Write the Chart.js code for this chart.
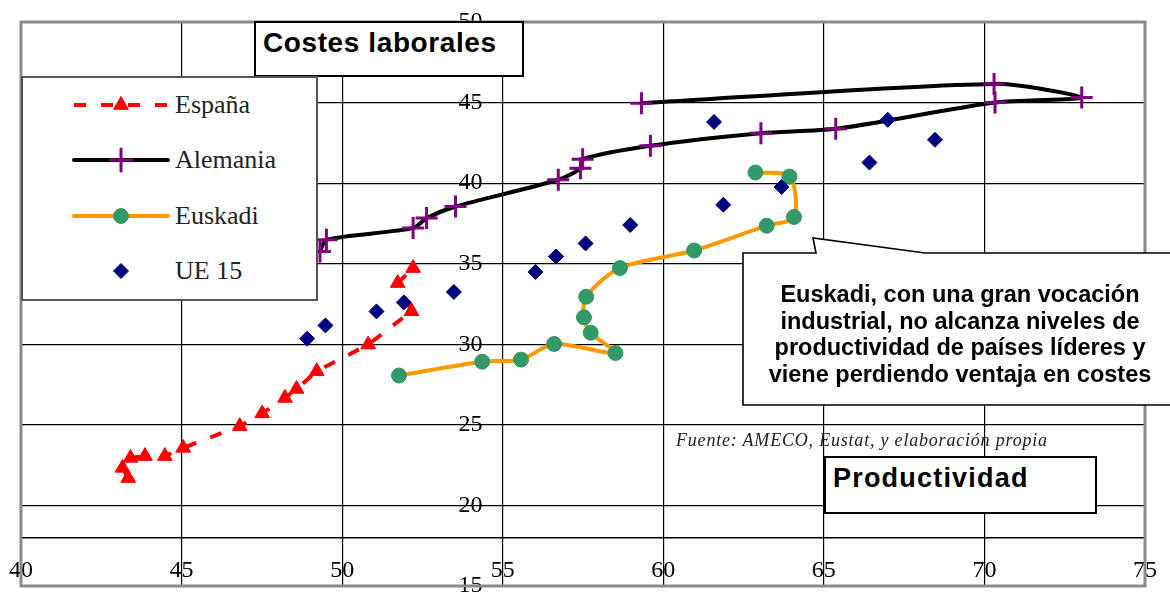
<!DOCTYPE html>
<html>
<head>
<meta charset="utf-8">
<script src="https://cdn.jsdelivr.net/npm/chart.js@4/dist/chart.umd.min.js"></script>
<style>
  html, body { margin:0; padding:0; background:#fff; overflow:hidden; }
  #wrap { position:relative; width:1170px; height:592px; overflow:hidden; background:#fff; }
  #c { position:absolute; left:0; top:0; }
  .box { position:absolute; background:#fff; box-sizing:border-box; }
  #title { left:254px; top:21px; width:270px; height:56px; border:2px solid #000;
           font:bold 28px "Liberation Sans", Arial, sans-serif; letter-spacing:0.6px; color:#000;
           padding-left:7px; line-height:40px; white-space:nowrap; }
  #xtitle { left:824px; top:456px; width:273px; height:58px; border:2px solid #000;
           font:bold 27px "Liberation Sans", Arial, sans-serif; letter-spacing:1.2px; color:#000;
           padding-left:7px; line-height:40px; }
  #legend { left:21px; top:76px; width:297px; height:225px; border:2px solid #555; }
  .lgtext { position:absolute; left:152px; font:26px "Liberation Serif", "Times New Roman", serif; color:#222; line-height:30px; height:30px; white-space:nowrap; }
  .lgsample { position:absolute; left:48px; }
  #note { position:absolute; left:743px; top:281px; width:434px; text-align:center;
          font:bold 23.5px "Liberation Sans", Arial, sans-serif; line-height:26.7px; color:#000; }
  #source { position:absolute; left:676px; top:428px; white-space:nowrap;
          font:italic 18px "Liberation Serif", "Times New Roman", serif; letter-spacing:0.8px; color:#222; line-height:24px; }
  svg { position:absolute; left:0; top:0; }
</style>
</head>
<body>
<div id="wrap">
  <canvas id="c" width="1170" height="602"></canvas>
  <div id="title" class="box">Costes laborales</div>
  <div id="legend" class="box"></div>
  <svg width="1170" height="592">
    <path d="M743,253 L816,253 L813,238 L925,253 L1185,253 L1185,405 L743,405 Z" fill="#fff" stroke="#000" stroke-width="1.6"/>
  </svg>
  <div id="note">Euskadi, con una gran vocación<br>industrial, no alcanza niveles de<br>productividad de países líderes y<br>viene perdiendo ventaja en costes</div>
  <div id="source">Fuente: AMECO, Eustat, y elaboración propia</div>
  <div id="xtitle" class="box">Productividad</div>
</div>
<script>
// ---- Data ----
const seriesNames = ['España', 'Alemania', 'Euskadi', 'UE 15'];

const espanaX = [43.34, 43.16, 43.41, 43.86, 44.48, 45.05, 46.81, 47.51, 48.22, 48.58, 49.21, 50.81, 52.16, 51.73, 52.21];
const espanaY = [21.70, 22.33, 22.95, 23.06, 23.06, 23.57, 24.92, 25.71, 26.67, 27.23, 28.33, 29.98, 32.05, 33.80, 34.73];

const alemaniaX = [49.31, 49.51, 52.21, 52.63, 53.53, 56.73, 57.42, 57.49, 59.60, 63.04, 65.37, 70.33, 73.03, 70.30, 59.32];
const alemaniaY = [35.76, 36.49, 37.21, 37.83, 38.55, 40.21, 40.93, 41.49, 42.32, 43.10, 43.37, 45.00, 45.31, 46.16, 44.96];

const euskadiX = [51.77, 54.36, 55.57, 56.60, 58.51, 57.74, 57.53, 57.60, 58.65, 60.96, 63.22, 64.07, 63.93, 62.87];
const euskadiY = [28.06, 28.92, 29.05, 30.02, 29.46, 30.72, 31.67, 32.95, 34.73, 35.82, 37.36, 37.90, 40.41, 40.66];

const ue15X = [48.91, 49.48, 51.07, 51.92, 53.48, 56.02, 56.66, 57.58, 58.97, 61.87, 63.68, 61.58, 66.42, 66.99, 68.46];
const ue15Y = [30.35, 31.17, 32.04, 32.60, 33.25, 34.49, 35.45, 36.26, 37.40, 38.66, 39.76, 43.80, 41.28, 43.93, 42.69];

const xTickValues = [40, 45, 50, 55, 60, 65, 70, 75];
const yTickValues = [15, 20, 25, 30, 35, 40, 45, 50];

const toPoints = (xs, ys) => xs.map((x, i) => ({x: x, y: ys[i]}));

const datasets = [
  { label: seriesNames[0], data: toPoints(espanaX, espanaY), showLine: true,
    borderColor: '#ff0000', borderWidth: 4, borderDash: [12, 15], tension: 0,
    pointStyle: 'triangle', pointRadius: 8.5, pointBackgroundColor: '#ff0000',
    pointBorderColor: '#ff0000', pointBorderWidth: 1, order: 3 },
  { label: seriesNames[1], data: toPoints(alemaniaX, alemaniaY), showLine: true,
    borderColor: '#000000', borderWidth: 4, borderCapStyle: 'round', tension: 0.25,
    pointStyle: 'cross', pointRadius: 11, pointBackgroundColor: '#800080',
    pointBorderColor: '#800080', pointBorderWidth: 3, order: 2 },
  { label: seriesNames[2], data: toPoints(euskadiX, euskadiY), showLine: true,
    borderColor: '#ff9900', borderWidth: 4, borderCapStyle: 'round', tension: 0.3,
    pointStyle: 'circle', pointRadius: 7.5, pointBackgroundColor: '#339966',
    pointBorderColor: '#339966', pointBorderWidth: 1, order: 1 },
  { label: seriesNames[3], data: toPoints(ue15X, ue15Y), showLine: false,
    pointStyle: 'rectRot', pointRadius: 7.5, pointBackgroundColor: '#000080',
    pointBorderColor: '#000080', pointBorderWidth: 1, order: 0 }
];

const framePlugin = {
  id: 'frame',
  afterDraw(chart) {
    const a = chart.chartArea, ctx = chart.ctx;
    ctx.save();
    ctx.strokeStyle = '#8a8a8a';
    ctx.lineWidth = 3;
    ctx.strokeRect(a.left, a.top, a.right - a.left, a.bottom - a.top);
    ctx.restore();
  }
};

const tickFont = { family: 'Liberation Serif', size: 24 };

const chart = new Chart(document.getElementById('c'), {
  type: 'scatter',
  data: { datasets: datasets },
  options: {
    responsive: false,
    devicePixelRatio: 1,
    animation: false,
    layout: { padding: { left: 21, right: 25, top: 22, bottom: 16 } },
    plugins: { legend: { display: false }, tooltip: { enabled: false } },
    scales: {
      x: {
        type: 'linear', min: 40, max: 75,
        position: { y: 18 },
        afterBuildTicks: s => { s.ticks = xTickValues.map(v => ({ value: v })); },
        ticks: { autoSkip: false, maxRotation: 0, padding: 0, font: tickFont, color: '#000' },
        grid: { color: '#000', lineWidth: 1.2, drawTicks: true, tickLength: 19, tickColor: 'rgba(0,0,0,0)' },
        border: { display: true, color: '#000', width: 1.5 }
      },
      y: {
        type: 'linear', min: 15, max: 50,
        position: { x: 54.37 },
        afterBuildTicks: s => { s.ticks = yTickValues.map(v => ({ value: v })); },
        ticks: { autoSkip: false, padding: 0, font: tickFont, color: '#000' },
        grid: { color: '#000', lineWidth: 1.2, drawTicks: false },
        border: { display: false }
      }
    }
  },
  plugins: [framePlugin]
});

// ---- Legend built from the dataset styles ----
const legend = document.getElementById('legend');
const rowCenters = [27, 82, 138, 193];
[datasets[0], datasets[1], datasets[2], datasets[3]].forEach((ds, i) => {
  const c = document.createElement('canvas');
  c.width = 100; c.height = 30; c.className = 'lgsample';
  c.style.top = (rowCenters[i] - 15) + 'px';
  const ctx = c.getContext('2d');
  if (ds.showLine) {
    ctx.strokeStyle = ds.borderColor; ctx.lineWidth = ds.borderWidth;
    ctx.setLineDash(ds.borderDash || []); ctx.lineCap = ds.borderCapStyle || 'butt';
    ctx.beginPath(); ctx.moveTo(3, 15); ctx.lineTo(97, 15); ctx.stroke();
    ctx.setLineDash([]);
  }
  ctx.fillStyle = ds.pointBackgroundColor; ctx.strokeStyle = ds.pointBorderColor;
  ctx.lineWidth = ds.pointBorderWidth;
  Chart.helpers.drawPoint(ctx, { pointStyle: ds.pointStyle, radius: ds.pointRadius, borderWidth: ds.pointBorderWidth, rotation: 0 }, 50, 15);
  legend.appendChild(c);
  const t = document.createElement('div');
  t.className = 'lgtext'; t.textContent = ds.label;
  t.style.top = (rowCenters[i] - 15) + 'px';
  legend.appendChild(t);
});
</script>
</body>
</html>
